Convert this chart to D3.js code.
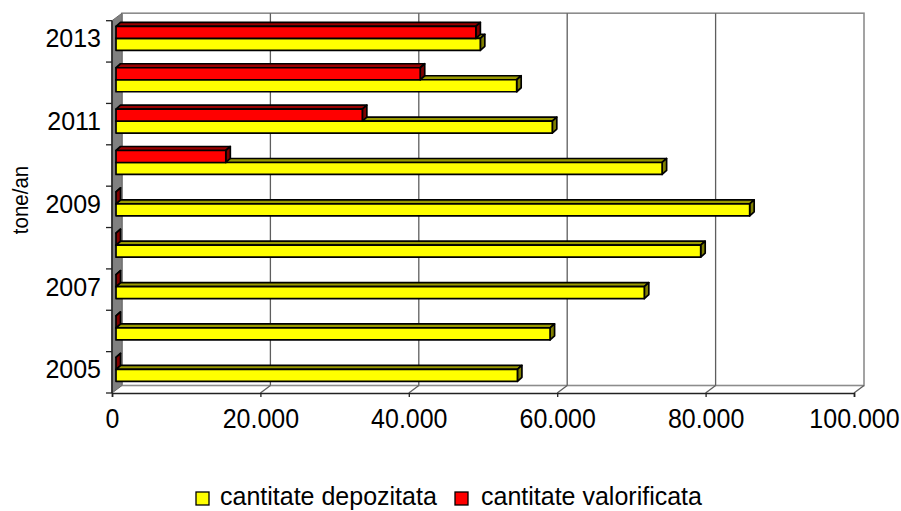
<!DOCTYPE html>
<html lang="ro">
<head>
    <meta charset="UTF-8">
    <title>tone/an</title>
    <script src="https://d3js.org/d3.v7.min.js"></script>
    <style>
        body {
            margin: 0;
            padding: 0;
            background-color: #ffffff;
            font-family: "Liberation Sans", Arial, sans-serif;
        }
        svg {
            display: block;
        }
        .axis text {
            font-family: "Liberation Sans", Arial, sans-serif;
            fill: #000000;
        }
    </style>
</head>
<body>
    <svg id="chart"></svg>

    <script>
        // data (tone/an)
        const years = [2005, 2006, 2007, 2008, 2009, 2010, 2011, 2012, 2013];
        const depozitata = [54100, 58500, 71200, 78800, 85400, 73600, 58800, 54000, 49100];
        const valorificata = [0, 0, 0, 0, 0, 14800, 33200, 41000, 48500];
        const labelYears = [2005, 2007, 2009, 2011, 2013];
        const xTicks = [0, 20000, 40000, 60000, 80000, 100000];
        const seriesKeys = ["valorificata", "depozitata"];
        const seriesNames = { depozitata: "cantitate depozitata", valorificata: "cantitate valorificata" };

        const width = 901;
        const height = 511;

        // front plane of the 3D box, and its depth offset
        const plot = { left: 112, right: 854, top: 20.7, bottom: 393 };
        const depth = { dx: 10, dy: -7.5 };
        // bars sit a bit inside the box and have their own depth
        const barShift = { dx: 4, dy: -3 };
        const barDepth = { dx: 4.5, dy: -4 };

        const colors = {
            depozitata: { front: "#ffff00", top: "#999900", side: "#808000" },
            valorificata: { front: "#ff0000", top: "#990000", side: "#800000" }
        };

        const svg = d3.select("#chart")
            .attr("width", width)
            .attr("height", height);

        const x = d3.scaleLinear()
            .domain([0, 100000])
            .range([plot.left, plot.right]);

        const y = d3.scaleBand()
            .domain(years.slice().reverse())
            .range([plot.top, plot.bottom]);

        const ySub = d3.scaleBand()
            .domain(seriesKeys)
            .range([0, y.bandwidth()])
            .paddingOuter(0.725);

        const locale = d3.formatLocale({ decimal: ",", thousands: ".", grouping: [3], currency: ["", ""] });
        const fmt = locale.format(",");

        const pts = arr => arr.map(p => p.join(",")).join(" ");

        // back wall
        svg.append("rect")
            .attr("x", plot.left + depth.dx)
            .attr("y", plot.top + depth.dy)
            .attr("width", plot.right - plot.left)
            .attr("height", plot.bottom - plot.top)
            .attr("fill", "#ffffff")
            .attr("stroke", "#8c8c8c")
            .attr("stroke-width", 1.6);

        // gridlines on back wall + floor
        svg.selectAll("line.grid")
            .data(xTicks.slice(1, -1))
            .enter().append("line")
            .attr("class", "grid")
            .attr("x1", d => x(d) + depth.dx)
            .attr("x2", d => x(d) + depth.dx)
            .attr("y1", plot.top + depth.dy)
            .attr("y2", plot.bottom + depth.dy)
            .attr("stroke", "#5e5e5e")
            .attr("stroke-width", 1.3);

        svg.selectAll("line.floor")
            .data(xTicks.slice(1))
            .enter().append("line")
            .attr("class", "floor")
            .attr("x1", d => x(d))
            .attr("x2", d => x(d) + depth.dx)
            .attr("y1", plot.bottom)
            .attr("y2", plot.bottom + depth.dy)
            .attr("stroke", "#5e5e5e")
            .attr("stroke-width", 1.3);

        // left side wall
        svg.append("polygon")
            .attr("points", pts([
                [plot.left, plot.top],
                [plot.left + depth.dx, plot.top + depth.dy],
                [plot.left + depth.dx, plot.bottom + depth.dy],
                [plot.left, plot.bottom]
            ]))
            .attr("fill", "#808080")
            .attr("stroke", "#6a6a6a")
            .attr("stroke-width", 1);

        // x axis
        const xAxis = d3.axisBottom(x)
            .tickValues(xTicks)
            .tickFormat(d => fmt(d))
            .tickSize(4)
            .tickPadding(9.5);

        const xAxisG = svg.append("g")
            .attr("class", "axis")
            .attr("transform", `translate(0,${plot.bottom})`)
            .call(xAxis);
        xAxisG.select(".domain").attr("stroke", "#222222").attr("stroke-width", 1.6);
        xAxisG.selectAll(".tick line").attr("stroke", "#222222").attr("stroke-width", 1.3);
        xAxisG.selectAll(".tick text")
            .style("font-size", "25px")
            .attr("transform", "scale(1,1.12)");

        // y axis: labels for odd years, ticks on band edges
        const yAxis = d3.axisLeft(y)
            .tickValues(labelYears)
            .tickSize(0)
            .tickPadding(11);

        const yAxisG = svg.append("g")
            .attr("class", "axis")
            .attr("transform", `translate(${plot.left},${barShift.dy})`)
            .call(yAxis);
        yAxisG.select(".domain").remove();
        yAxisG.selectAll(".tick text").style("font-size", "25px").attr("dy", "0.36em");

        svg.append("line")
            .attr("x1", plot.left).attr("x2", plot.left)
            .attr("y1", plot.top).attr("y2", plot.bottom)
            .attr("stroke", "#222222")
            .attr("stroke-width", 1.6);

        const edges = years.map(yr => y(yr)).concat([plot.bottom]);
        svg.selectAll("line.ytick")
            .data(edges)
            .enter().append("line")
            .attr("class", "ytick")
            .attr("x1", plot.left - 6).attr("x2", plot.left)
            .attr("y1", d => d).attr("y2", d => d)
            .attr("stroke", "#222222")
            .attr("stroke-width", 1.3);

        // bars
        const bars = [];
        years.forEach((yr, i) => {
            bars.push({ year: yr, key: "depozitata", value: depozitata[i] });
            bars.push({ year: yr, key: "valorificata", value: valorificata[i] });
        });

        const barG = svg.append("g")
            .attr("stroke", "#000000")
            .attr("stroke-width", 1.7)
            .attr("stroke-linejoin", "round");

        bars.forEach(b => {
            const x0 = x(0) + barShift.dx;
            const x1 = x(b.value) + barShift.dx;
            const y0 = y(b.year) + ySub(b.key) + barShift.dy;
            const h = ySub.bandwidth();
            const c = colors[b.key];
            const g = barG.append("g");

            g.append("polygon")
                .attr("points", pts([
                    [x0, y0], [x0 + barDepth.dx, y0 + barDepth.dy],
                    [x1 + barDepth.dx, y0 + barDepth.dy], [x1, y0]
                ]))
                .attr("fill", c.top);

            g.append("polygon")
                .attr("points", pts([
                    [x1, y0], [x1 + barDepth.dx, y0 + barDepth.dy],
                    [x1 + barDepth.dx, y0 + h + barDepth.dy], [x1, y0 + h]
                ]))
                .attr("fill", c.side);

            g.append("rect")
                .attr("x", x0)
                .attr("y", y0)
                .attr("width", Math.max(0, x1 - x0))
                .attr("height", h)
                .attr("fill", c.front);
        });

        // axis title
        svg.append("text")
            .attr("transform", "translate(28,200) rotate(-90) scale(1,1.12)")
            .attr("text-anchor", "middle")
            .style("font-size", "20.5px")
            .text("tone/an");

        // legend
        const legendItems = [
            { key: "depozitata", x: 196, tx: 220 },
            { key: "valorificata", x: 455, tx: 481 }
        ];
        const legend = svg.append("g");
        legendItems.forEach(item => {
            legend.append("rect")
                .attr("x", item.x)
                .attr("y", 492)
                .attr("width", 13)
                .attr("height", 13)
                .attr("fill", colors[item.key].front)
                .attr("stroke", "#000000")
                .attr("stroke-width", 1.3);
            legend.append("text")
                .attr("x", item.tx)
                .attr("y", 504.5)
                .style("font-size", "25px")
                .text(seriesNames[item.key]);
        });
    </script>
</body>
</html>
